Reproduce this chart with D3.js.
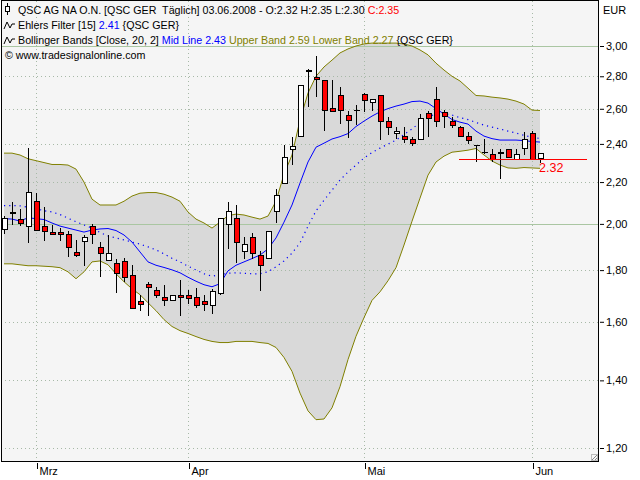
<!DOCTYPE html>
<html><head><meta charset="utf-8">
<script src="https://cdn.jsdelivr.net/npm/d3@7"></script>
<style>
body{margin:0;background:#fff}
svg{display:block;font-family:"Liberation Sans",Arial,sans-serif;font-size:11px}
</style>
</head><body>
<svg id="chart" width="640" height="480"></svg>
<script>
// ---------- DATA ----------
const openP  = [1.975,2.050,2.018,1.988,2.106,1.990,1.960,1.960,1.950,1.873,1.920,1.990,1.896,1.838,1.828,1.837,1.779,1.675,1.740,1.719,1.690,1.680,1.700,1.700,1.690,1.675,1.660,1.707,1.998,2.026,1.879,1.940,1.859,1.849,2.058,2.194,2.367,2.443,2.830,2.793,2.774,2.603,2.677,2.558,2.590,2.683,2.635,2.677,2.528,2.455,2.440,2.425,2.423,2.573,2.653,2.577,2.528,2.492,2.443,2.390,2.354,2.344,2.346,2.372,2.317,2.374,2.455,2.320];
const highP  = [2.034,2.100,2.070,2.378,2.145,2.078,1.996,1.980,1.969,1.928,1.950,2.000,1.918,1.950,1.846,1.850,1.820,1.700,1.753,1.733,1.740,1.700,1.760,1.720,1.730,1.700,1.725,2.026,2.100,2.088,1.940,1.960,1.879,1.966,2.165,2.393,2.436,2.743,2.847,2.933,2.774,2.776,2.730,2.588,2.623,2.696,2.660,2.677,2.554,2.492,2.492,2.436,2.567,2.588,2.734,2.592,2.550,2.500,2.465,2.395,2.427,2.371,2.374,2.372,2.374,2.464,2.470,2.350];
const lowP   = [1.954,1.995,1.990,1.916,1.968,1.925,1.950,1.925,1.856,1.856,1.818,1.910,1.771,1.838,1.707,1.753,1.650,1.640,1.621,1.690,1.660,1.680,1.620,1.666,1.650,1.640,1.630,1.700,1.887,1.828,1.846,1.845,1.717,1.849,2.006,2.190,2.287,2.443,2.612,2.673,2.473,2.585,2.511,2.434,2.506,2.583,2.589,2.421,2.449,2.425,2.403,2.390,2.423,2.440,2.492,2.490,2.490,2.436,2.400,2.305,2.346,2.305,2.214,2.329,2.317,2.340,2.317,2.300];
const closeP = [2.026,2.052,2.000,2.146,1.968,1.966,1.950,1.950,1.896,1.863,1.940,1.950,1.870,1.870,1.787,1.771,1.650,1.665,1.730,1.700,1.680,1.700,1.690,1.688,1.660,1.665,1.716,2.026,2.058,1.916,1.909,1.870,1.821,1.966,2.135,2.328,2.385,2.743,2.836,2.780,2.589,2.585,2.589,2.530,2.589,2.648,2.653,2.524,2.492,2.466,2.425,2.403,2.544,2.544,2.524,2.553,2.502,2.440,2.421,2.392,2.356,2.317,2.356,2.329,2.344,2.425,2.317,2.350];

const upperBand = [2.35,2.35,2.34,2.32,2.31,2.30,2.29,2.29,2.287,2.266,2.20,2.116,2.088,2.088,2.088,2.106,2.131,2.145,2.148,2.148,2.14,2.126,2.106,2.055,2.022,2.004,1.981,2.008,2.038,2.045,2.041,2.031,2.022,2.036,2.106,2.24,2.34,2.534,2.695,2.80,2.86,2.905,2.953,2.98,3.00,3.014,3.02,3.02,3.02,3.02,3.014,3.00,2.973,2.94,2.885,2.84,2.80,2.77,2.725,2.68,2.677,2.67,2.665,2.658,2.646,2.628,2.592,2.59];
const lowerBand = [1.826,1.826,1.822,1.818,1.818,1.816,1.814,1.81,1.793,1.765,1.793,1.834,1.838,1.822,1.785,1.753,1.725,1.702,1.671,1.641,1.608,1.583,1.568,1.558,1.547,1.537,1.530,1.526,1.526,1.530,1.530,1.530,1.526,1.523,1.509,1.475,1.429,1.360,1.306,1.280,1.282,1.315,1.380,1.468,1.548,1.615,1.680,1.713,1.757,1.810,1.906,2.012,2.121,2.235,2.303,2.334,2.355,2.36,2.366,2.375,2.34,2.308,2.287,2.272,2.27,2.274,2.272,2.27];
const midLine   = [2.085,2.085,2.084,2.077,2.07,2.061,2.055,2.043,2.026,2.01,1.995,1.981,1.961,1.946,1.937,1.928,1.919,1.91,1.898,1.885,1.868,1.849,1.834,1.816,1.801,1.785,1.775,1.781,1.787,1.789,1.787,1.785,1.785,1.793,1.814,1.838,1.871,1.915,1.99,2.06,2.111,2.16,2.21,2.251,2.287,2.324,2.353,2.377,2.399,2.421,2.452,2.483,2.52,2.551,2.571,2.572,2.563,2.548,2.537,2.52,2.505,2.494,2.483,2.471,2.46,2.447,2.437,2.43];
const ehlers    = [2.024,2.022,2.013,2.028,2.024,2.02,2.004,1.99,1.981,1.972,1.963,1.972,1.977,1.979,1.97,1.95,1.919,1.876,1.834,1.82,1.811,1.801,1.789,1.771,1.755,1.741,1.733,1.745,1.797,1.82,1.834,1.848,1.863,1.889,1.937,2.008,2.088,2.195,2.303,2.382,2.404,2.427,2.44,2.457,2.497,2.528,2.557,2.582,2.601,2.616,2.628,2.643,2.646,2.634,2.601,2.569,2.537,2.522,2.511,2.471,2.443,2.429,2.421,2.421,2.421,2.418,2.413,2.41];

const monthLabels = ["Mrz","Apr","Mai","Jun"];
const monthIndex  = [4,23,45,66];
const yTicks = [1.2,1.4,1.6,1.8,2.0,2.2,2.4,2.6,2.8,3.0];
const solidGrid = [2.0,3.0];
const markerValue = 2.32;
const markerStart = 57;

// ---------- CHART ----------
const svg = d3.select("#chart");
const P = {l:1, t:1, r:598, b:461};
const n = closeP.length;
const x = d3.scaleLinear().domain([0, n-1]).range([4, 540]);
const y = d3.scaleLog().domain([1.2, 3.0]).range([448, 46]);

svg.append("rect").attr("width",640).attr("height",480).attr("fill","#fff");
svg.append("defs").append("clipPath").attr("id","clip")
  .append("rect").attr("x",P.l).attr("y",P.t).attr("width",P.r-P.l).attr("height",P.b-P.t);
svg.append("rect").attr("x",P.l).attr("y",P.t).attr("width",P.r-P.l).attr("height",P.b-P.t).attr("fill","#f5f5f5");

const g = svg.append("g").attr("clip-path","url(#clip)");

// band fill
const idx = d3.range(n);
g.append("path").datum(idx)
  .attr("d", d3.area().x(i=>x(i)).y0(i=>y(lowerBand[i])).y1(i=>y(upperBand[i])))
  .attr("fill","#d9d9d9");

// grid
yTicks.forEach(v=>{
  const yy = Math.round(y(v))+0.5;
  const solid = solidGrid.includes(v);
  g.append("line").attr("x1",P.l).attr("x2",P.r).attr("y1",yy).attr("y2",yy)
    .attr("stroke", solid ? "#aac6a2" : "#a7b9a7")
    .attr("stroke-dasharray", solid ? null : "1,3");
});
monthIndex.forEach(i=>{
  const xx = Math.round(x(i))+0.5;
  g.append("line").attr("x1",xx).attr("x2",xx).attr("y1",P.t).attr("y2",P.b)
    .attr("stroke","#a7b9a7").attr("stroke-dasharray","1,3");
});

// band lines
const ln = arr => d3.line().x(i=>x(i)).y(i=>y(arr[i]));
g.append("path").datum(idx).attr("d",ln(upperBand)).attr("fill","none").attr("stroke","#808000");
g.append("path").datum(idx).attr("d",ln(lowerBand)).attr("fill","none").attr("stroke","#808000");
g.append("path").datum(idx).attr("d",ln(midLine)).attr("fill","none").attr("stroke","#0000ff")
  .attr("stroke-width",1.2).attr("stroke-dasharray","1.2,4");
g.append("path").datum(idx).attr("d",ln(ehlers)).attr("fill","none").attr("stroke","#0000ff");

// candles
const cg = g.append("g").attr("shape-rendering","crispEdges");
idx.forEach(i=>{
  const cx = Math.round(x(i))+0.5;
  cg.append("line").attr("x1",cx).attr("x2",cx)
    .attr("y1",y(highP[i])).attr("y2",y(lowP[i])).attr("stroke","#000");
  const top = Math.min(y(openP[i]), y(closeP[i]));
  const bot = Math.max(y(openP[i]), y(closeP[i]));
  const h = Math.max(0, bot-top);
  cg.append("rect").attr("x",cx-2.5).attr("y",top).attr("width",5).attr("height",h)
    .attr("fill", closeP[i] >= openP[i] ? "#ffffff" : "#ff0000")
    .attr("stroke","#000");
});

// marker line (filled rect so the colour is exact)
const my = Math.round(y(markerValue));
svg.append("rect").attr("x",Math.round(x(markerStart))-1).attr("y",my)
  .attr("width",587-(Math.round(x(markerStart))-1)).attr("height",1)
  .attr("fill","#ff0000").attr("shape-rendering","crispEdges");
svg.append("text").attr("x",539).attr("y",my+12.5).attr("fill","#ff0000")
  .style("font-size","12.5px").text(markerValue.toFixed(2));

// frame
svg.append("rect").attr("x",P.l+0.5).attr("y",P.t-0.5).attr("width",P.r-P.l).attr("height",P.b-P.t+0.5)
  .attr("fill","none").attr("stroke","#000").attr("shape-rendering","crispEdges");

// resize glyph
svg.append("path").attr("d","M592,460 L597,455 M595,460 L597,458").attr("stroke","#888").attr("fill","none");
svg.append("rect").attr("x",591.5).attr("y",454.5).attr("width",6).attr("height",6).attr("fill","none").attr("stroke","#bbb");

// right axis
const ya = svg.append("g").attr("transform","translate(600,0)")
  .call(d3.axisRight(y).tickValues(yTicks).tickSize(4).tickPadding(2)
    .tickFormat(d=>d.toFixed(2).replace(".",",")));
ya.select(".domain").remove();
ya.selectAll("text").style("font-size","11px").style("font-family","'Liberation Sans',Arial,sans-serif").attr("fill","#000");
svg.append("text").attr("x",603).attr("y",14).text("EUR");

// bottom axis
const xa = svg.append("g").attr("transform","translate(0,462)")
  .call(d3.axisBottom(x).tickValues(monthIndex).tickSize(6).tickPadding(0)
    .tickFormat((d,i)=>monthLabels[i]));
xa.select(".domain").remove();
xa.selectAll(".tick line").attr("transform","translate(1,1)");
xa.selectAll("text").attr("text-anchor","start").attr("x",3).attr("y",5).attr("dy","0.71em")
  .style("font-size","11px").style("font-family","'Liberation Sans',Arial,sans-serif").attr("fill","#000");

// header
const hdr = svg.append("g").style("font-size","10.7px");
hdr.append("line").attr("x1",7.5).attr("x2",7.5).attr("y1",3).attr("y2",15).attr("stroke","#000");
hdr.append("rect").attr("x",5.5).attr("y",6.5).attr("width",4).attr("height",5).attr("fill","#fff").attr("stroke","#000");
const t1 = hdr.append("text").attr("x",18).attr("y",14).attr("xml:space","preserve");
t1.append("tspan").text("QSC AG NA O.N. [QSC GER\u00a0 Täglich] 03.06.2008 - O:2.32 H:2.35 L:2.30 ");
t1.append("tspan").attr("fill","#ff0000").text("C:2.35");

function wave(yb){
  hdr.append("path").attr("d",`M4,${yb} L7,${yb-7} L10,${yb-1} L12,${yb-5} L15,${yb-5}`)
    .attr("fill","none").attr("stroke","#000");
}
wave(29);
const t2 = hdr.append("text").attr("x",18).attr("y",29).attr("xml:space","preserve");
t2.append("tspan").text("Ehlers Filter [15] ");
t2.append("tspan").attr("fill","#0000ff").text("2.41");
t2.append("tspan").text(" {QSC GER}");

wave(44);
const t3 = hdr.append("text").attr("x",18).attr("y",44).attr("xml:space","preserve");
t3.append("tspan").text("Bollinger Bands [Close, 20, 2] ");
t3.append("tspan").attr("fill","#0000ff").text("Mid Line 2.43");
t3.append("tspan").attr("fill","#808000").text(" Upper Band 2.59 Lower Band 2.27");
t3.append("tspan").text(" {QSC GER}");

hdr.append("text").attr("x",5).attr("y",59).text("© www.tradesignalonline.com");
</script>
</body></html>
